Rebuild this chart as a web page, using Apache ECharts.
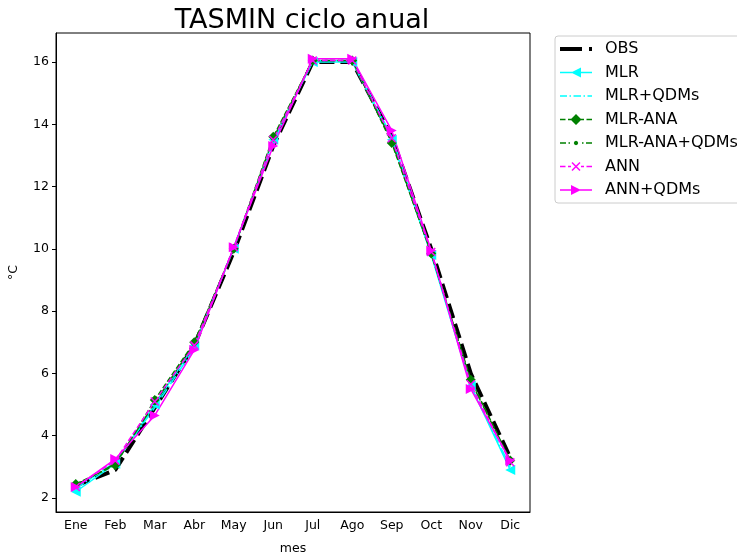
<!DOCTYPE html>
<html>
<head>
<meta charset="utf-8">
<script src="https://cdn.jsdelivr.net/npm/echarts@6/dist/echarts.min.js"></script>
<style>html,body{margin:0;padding:0;background:#fff;}#c{width:737px;height:556px;}</style>
</head>
<body>
<div id="c"></div>
<script>
var months = ['Ene','Feb','Mar','Abr','May','Jun','Jul','Ago','Sep','Oct','Nov','Dic'];
var yTicks = [2,4,6,8,10,12,14,16];
var obs        = [2.40, 2.90, 4.90, 6.90, 9.90, 13.30, 16.00, 16.00, 13.60, 10.00, 6.00, 3.30];
var mlr        = [2.20, 3.10, 5.00, 6.90, 10.00, 13.50, 16.00, 16.00, 13.50, 9.80, 5.60, 2.90];
var mlrQdm     = [2.30, 3.15, 4.90, 6.80, 10.05, 13.40, 16.05, 16.05, 13.60, 9.85, 5.60, 3.00];
var mlrAna     = [2.45, 3.05, 5.15, 7.00, 10.00, 13.60, 16.05, 16.05, 13.40, 9.85, 5.80, 3.20];
var mlrAnaQdm  = [2.40, 3.10, 5.05, 6.95, 10.00, 13.55, 16.05, 16.05, 13.45, 9.85, 5.75, 3.20];
var ann        = [2.35, 3.20, 5.10, 6.90, 10.05, 13.50, 16.05, 16.05, 13.55, 9.90, 5.65, 3.15];
var annQdm     = [2.35, 3.25, 4.65, 6.75, 10.05, 13.30, 16.10, 16.10, 13.80, 9.95, 5.50, 3.20];

var font = 'DejaVu Sans';
var chart = echarts.init(document.getElementById('c'), null, {renderer:'canvas'});
var xPath = 'path://M0,0L10,10M10,0L0,10';

// ---- legend icon geometry (32 x 14 box) ----
function r(x0, x1, h) { var a = 7 - h / 2, b = 7 + h / 2; return 'M' + x0 + ',' + a + 'L' + x1 + ',' + a + 'L' + x1 + ',' + b + 'L' + x0 + ',' + b + 'Z'; }
function dashes(list, h) { return list.map(function (d) { return r(d[0], d[1], h); }).join(''); }
var frame = 'M0,0L0.01,0L0.01,0.01ZM32,14L31.99,14L31.99,13.99Z';
var triL = 'M11,7L21,2L21,12Z';
var triR = 'M21,7L11,12L11,2Z';
var diam = 'M16,1.5L21.5,7L16,12.5L10.5,7Z';
var xMark = 'M12.53,2.47L20.53,10.47L19.47,11.53L11.47,3.53ZM11.47,10.47L19.47,2.47L20.53,3.53L12.53,11.53Z';
var dot = (function () { var p = ''; for (var i = 0; i < 8; i++) { var t = i * Math.PI / 4; p += (i ? 'L' : 'M') + (16 + 2.2 * Math.cos(t)).toFixed(2) + ',' + (7 + 2.2 * Math.sin(t)).toFixed(2); } return p + 'Z'; })();
var icons = {
  'OBS': frame + dashes([[0, 22], [29, 32]], 4),
  'MLR': frame + r(0, 32, 1.5) + triL,
  'MLR+QDMs': frame + dashes([[0, 7], [9.5, 11], [13.5, 21], [23.5, 25], [27.5, 32]], 1.5),
  'MLR-ANA': frame + dashes([[0, 5.5], [8, 12], [20, 24], [26.5, 32]], 1.5) + diam,
  'MLR-ANA+QDMs': frame + dashes([[0, 6], [8.5, 10], [22, 23.5], [26, 32]], 1.5) + dot,
  'ANN': frame + dashes([[0, 5.5], [8, 11], [21, 24], [26.5, 32]], 1.5) + xMark,
  'ANN+QDMs': frame + r(0, 32, 1.5) + triR
};

function s(name, data, color, width, type, symbol, size, rot, extra) {
  var o = {
    name: name, type: 'line', data: data,
    lineStyle: {color: color, width: width, type: type},
    itemStyle: {color: color, borderColor: color, borderWidth: 0},
    symbol: symbol || 'none', symbolSize: size || 0, symbolRotate: rot || 0,
    showSymbol: !!symbol, animation: false, emphasis: {disabled: true}
  };
  if (extra) Object.assign(o.itemStyle, extra);
  return o;
}
var series = [
  s('OBS', obs, '#000000', 4, [15, 6], null),
  s('MLR', mlr, '#00ffff', 1.5, 'solid', 'triangle', 10, 90),
  s('MLR+QDMs', mlrQdm, '#00ffff', 1.5, [9.6, 2.4, 1.5, 2.4], null),
  s('MLR-ANA', mlrAna, '#008000', 1.5, [5.5, 2.4], 'diamond', 10, 0),
  s('MLR-ANA+QDMs', mlrAnaQdm, '#008000', 1.5, [9.6, 2.4, 1.5, 2.4], 'circle', 4.5, 0),
  s('ANN', ann, '#ff00ff', 1.5, [5.5, 2.4], xPath, 8, 0, {color: 'none', borderColor: '#ff00ff', borderWidth: 1.5}),
  s('ANN+QDMs', annQdm, '#ff00ff', 1.5, 'solid', 'triangle', 10, -90)
];
var legendData = series.map(function (x) {
  return {name: x.name, icon: 'path://' + icons[x.name], itemStyle: {color: x.lineStyle.color, borderWidth: 0, opacity: 1}};
});

chart.setOption({
  backgroundColor: '#fff',
  animation: false,
  title: {
    text: 'TASMIN ciclo anual', left: 297, top: 2, textAlign: 'center',
    textStyle: {fontFamily: font, fontSize: 27, fontWeight: 'normal', color: '#000'}
  },
  legend: {
    orient: 'vertical', left: 555, top: 36,
    padding: [5, 8, 5, 5],
    itemWidth: 32, itemHeight: 14, itemGap: 7.5,
    backgroundColor: '#fff', borderColor: '#cccccc', borderWidth: 1, borderRadius: 3,
    itemStyle: {borderWidth: 0},
    textStyle: {fontFamily: font, fontSize: 16, color: '#000', lineHeight: 16, padding: [0, 0, 0, 8]},
    data: legendData
  },
  grid: {left: 56, right: 207, top: 33, bottom: 44, show: true, borderColor: '#000', borderWidth: 1, backgroundColor: 'transparent', containLabel: false, outerBoundsMode: 'none'},
  xAxis: {
    type: 'category', data: months, boundaryGap: true,
    name: 'mes', nameLocation: 'middle', nameGap: 30,
    nameTextStyle: {fontFamily: font, fontSize: 12.5, color: '#000'},
    axisLine: {lineStyle: {color: '#000', width: 1}},
    axisTick: {alignWithLabel: true, length: 4, lineStyle: {color: '#000'}},
    axisLabel: {fontFamily: font, fontSize: 12.5, color: '#000', margin: 7, interval: 0},
    splitLine: {show: false}
  },
  yAxis: {
    type: 'value', min: 1.55, max: 16.93,
    name: '°C', nameLocation: 'middle', nameGap: 36, nameRotate: 90,
    nameTextStyle: {fontFamily: font, fontSize: 12.5, color: '#000'},
    axisLine: {show: true, lineStyle: {color: '#000', width: 1}},
    axisTick: {show: true, length: 4, customValues: yTicks, lineStyle: {color: '#000'}},
    axisLabel: {fontFamily: font, fontSize: 12.5, color: '#000', margin: 7, customValues: yTicks},
    splitLine: {show: false}
  },
  series: series
});
</script>
</body>
</html>
